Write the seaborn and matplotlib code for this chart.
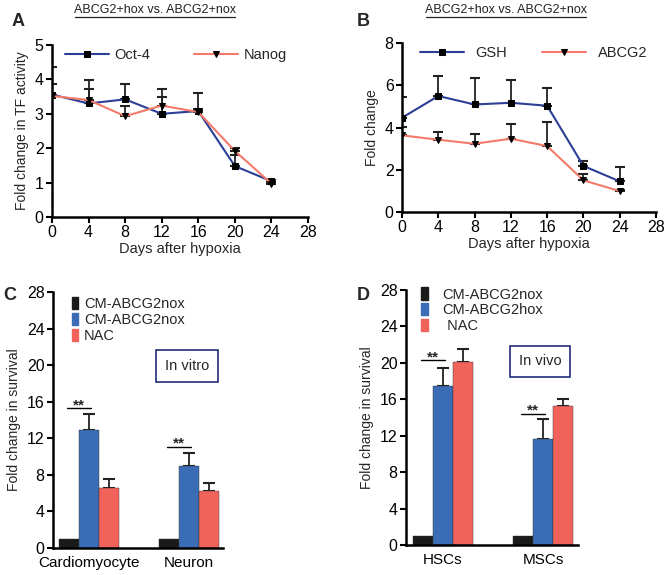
import numpy as np
import pandas as pd
import matplotlib
matplotlib.use("Agg")
import matplotlib.pyplot as plt
import seaborn as sns

sns.set_style("ticks")
plt.rcParams["font.family"] = ["Liberation Sans", "DejaVu Sans"]

# panel A / B data (days after hypoxia)
days = [0, 4, 8, 12, 16, 20, 24]
oct4_mean = [3.56, 3.30, 3.42, 3.00, 3.08, 1.48, 1.04]
oct4_err = [0.80, 0.67, 0.46, 0.71, 0.52, 0.31, 0.05]
nanog_mean = [3.52, 3.40, 2.93, 3.24, 3.05, 1.92, 0.97]
nanog_err = [0.36, 0.33, 0.30, 0.25, 0.10, 0.08, 0.05]

gsh_mean = [4.46, 5.49, 5.09, 5.17, 5.03, 2.18, 1.45]
gsh_err = [0.98, 0.93, 1.27, 1.06, 0.85, 0.23, 0.68]
abcg2_mean = [3.63, 3.42, 3.23, 3.47, 3.12, 1.50, 0.99]
abcg2_err = [0.39, 0.37, 0.44, 0.71, 1.14, 0.31, 0.05]

# panel C / D data
groups = ["CM-ABCG2nox", "CM-ABCG2hox", "NAC"]
legend_c = ["CM-ABCG2nox", "CM-ABCG2nox", "NAC"]
legend_d = ["CM-ABCG2nox", "CM-ABCG2hox", " NAC"]
cells_c = ["Cardiomyocyte", "Neuron"]
surv_c = [[1.0, 12.94, 6.56], [0.95, 8.93, 6.23]]
surv_c_err = [[0.0, 1.68, 1.02], [0.0, 1.50, 0.87]]
cells_d = ["HSCs", "MSCs"]
surv_d = [[0.95, 17.47, 20.10], [0.95, 11.63, 15.28]]
surv_d_err = [[0.0, 1.93, 1.46], [0.0, 2.17, 0.72]]
sig_c = [15.3, 11.1]
sig_d = [20.3, 14.4]

line_blue = "#2b3f96"
line_red = "#f47a6a"
bar_colors = ["#1a1a1a", "#3a6db5", "#f0625a"]

fig = plt.figure(figsize=(6.66, 5.75), dpi=100)
W, H = 666.0, 575.0


def add_ax(left, right, top, bottom):
    return fig.add_axes([left / W, 1 - bottom / H, (right - left) / W, (bottom - top) / H])


def style_ax(ax):
    for s in ["top", "right"]:
        ax.spines[s].set_visible(False)
    for s in ["left", "bottom"]:
        ax.spines[s].set_linewidth(1.8)
        ax.spines[s].set_color("black")
    ax.tick_params(direction="out", length=4, width=1.5, labelsize=11.5, colors="black", pad=2)


def line_panel(ax, m1, e1, m2, e2, names, ylim, yticks, ylabel, leg_x, colsp, textpad):
    df = pd.DataFrame({
        "day": days * 2,
        "value": m1 + m2,
        "series": [names[0]] * len(days) + [names[1]] * len(days),
    })
    for mean, err in [(m1, e1), (m2, e2)]:
        ax.errorbar(days, mean, yerr=[np.zeros(len(err)), err], fmt="none",
                    ecolor="#222222", elinewidth=1.3, capsize=3.5, capthick=1.5, zorder=2)
    sns.lineplot(data=df, x="day", y="value", hue="series", style="series",
                 markers={names[0]: "s", names[1]: "v"}, dashes=False,
                 palette={names[0]: line_blue, names[1]: line_red},
                 linewidth=1.5, markersize=5, markeredgecolor="black",
                 ax=ax, zorder=3)
    for ln in ax.lines:
        ln.set_markerfacecolor("black")
    ax.set_xlim(0, 28)
    ax.set_ylim(*ylim)
    ax.set_xticks(range(0, 29, 4))
    ax.set_yticks(yticks)
    ax.set_xlabel("Days after hypoxia", fontsize=10.5, labelpad=1)
    ax.set_ylabel(ylabel, fontsize=10, labelpad=4)
    ax.spines["left"].set_bounds(ylim[0], yticks[-1])
    style_ax(ax)
    leg = ax.legend(ncol=2, loc="upper left", bbox_to_anchor=(leg_x, 1.06), frameon=False,
                    fontsize=10.5, handlelength=3.0, columnspacing=colsp,
                    handletextpad=textpad)
    for h in leg.legend_handles:
        h.set_markerfacecolor("black")
        h.set_markeredgecolor("black")
        h.set_markersize(4.5)


def bar_panel(ax, cells, vals, errs, sig, labels, box_text, box_xy, xlim, leg_xy, textpad):
    df = pd.DataFrame({
        "cell": [c for c in cells for _ in groups],
        "group": groups * len(cells),
        "value": [v for row in vals for v in row],
    })
    sns.barplot(data=df, x="cell", y="value", hue="group", hue_order=groups,
                palette=bar_colors, width=0.6, errorbar=None, saturation=1,
                edgecolor="#333333", linewidth=0.3, ax=ax, legend=False, zorder=2)
    # upper-only error bars at bar centres
    for gi, g in enumerate(groups):
        cont = ax.containers[gi]
        for ci, patch in enumerate(cont.patches):
            e = errs[ci][gi]
            if e > 0:
                x = patch.get_x() + patch.get_width() / 2
                ax.errorbar(x, vals[ci][gi], yerr=[[0], [e]], fmt="none", ecolor="#222222",
                            elinewidth=1.3, capsize=4, capthick=1.5, zorder=1)
    for ci in range(len(cells)):
        p0 = ax.containers[0].patches[ci]
        p1 = ax.containers[1].patches[ci]
        x0 = p0.get_x() + p0.get_width() * 0.5
        x1 = p1.get_x() + p1.get_width() * 0.5
        ax.plot([x0 - 0.02, x1 + 0.02], [sig[ci], sig[ci]], color="black", lw=1)
        ax.text((x0 + x1) / 2, sig[ci] - 0.45, "**", ha="center", va="bottom",
                fontsize=11, fontweight="bold")
    ax.set_xlim(*xlim)
    ax.set_ylim(0, 28)
    ax.set_yticks(range(0, 29, 4))
    ax.set_xlabel("")
    ax.set_ylabel("Fold change in survival", fontsize=10, labelpad=4)
    style_ax(ax)
    ax.tick_params(axis="x", length=0, pad=6, labelsize=11)
    handles = [plt.Rectangle((0, 0), 1, 1, color=c) for c in bar_colors]
    ax.legend(handles, labels, loc="upper left", bbox_to_anchor=leg_xy, frameon=False,
              fontsize=10.5, handlelength=0.45, handleheight=0.9, handletextpad=textpad,
              labelspacing=0.12, borderaxespad=0, borderpad=0)
    ax.text(box_xy[0], box_xy[1], box_text, transform=ax.transAxes, ha="center", va="center",
            fontsize=10.5,
            bbox=dict(boxstyle="square,pad=0.6", fc="white", ec="#1f2d7a", lw=1.2))


# panel A
axA = add_ax(52, 308, 45, 217)
line_panel(axA, oct4_mean, oct4_err, nanog_mean, nanog_err, ["Oct-4", "Nanog"],
           (0, 5), list(range(0, 6)), "Fold change in TF activity", 0.0, 3.0, 0.4)

# panel B
axB = add_ax(402, 656, 43, 212)
line_panel(axB, gsh_mean, gsh_err, abcg2_mean, abcg2_err, ["GSH", "ABCG2"],
           (0, 8), [0, 2, 4, 6, 8], "Fold change", 0.02, 2.4, 0.8)

# panel C
axC = add_ax(53, 223, 292, 548)
bar_panel(axC, cells_c, surv_c, surv_c_err, sig_c, legend_c, "In vitro", (0.79, 0.71),
          (-0.36, 1.34), (0.11, 0.98), 0.4)

# panel D
axD = add_ax(406, 578, 290, 545)
bar_panel(axD, cells_d, surv_d, surv_d_err, sig_d, legend_d, "In vivo", (0.78, 0.72),
          (-0.37, 1.35), (0.09, 1.01), 1.0)

# titles and panel letters
for x, t in [(155, "ABCG2+hox vs. ABCG2+nox"), (506, "ABCG2+hox vs. ABCG2+nox")]:
    fig.text(x / W, 1 - 10 / H, t, ha="center", va="center", fontsize=9,
             color="#222222")
    fig.add_artist(plt.Line2D([(x - 80) / W, (x + 80) / W], [1 - 17 / H, 1 - 17 / H],
                              color="#222222", lw=0.9))
for x, y, t in [(18, 22, "A"), (363, 22, "B"), (10, 295, "C"), (363, 295, "D")]:
    fig.text(x / W, 1 - y / H, t, ha="center", va="center", fontsize=13, fontweight="bold")

fig.savefig("out.png", dpi=100)
